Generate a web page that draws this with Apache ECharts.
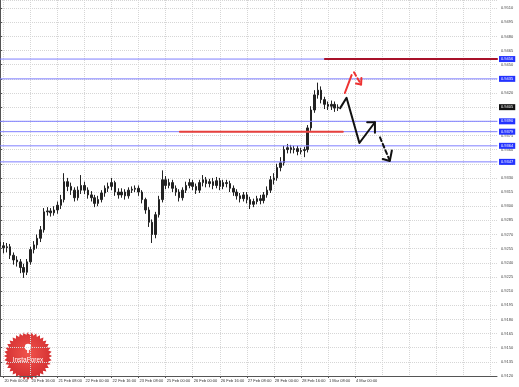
<!DOCTYPE html>
<html>
<head>
<meta charset="utf-8">
<script src="https://cdn.jsdelivr.net/npm/echarts@6/dist/echarts.min.js"></script>
<style>
html,body{margin:0;padding:0;background:#fff;}
#chart{width:519px;height:387px;}
</style>
</head>
<body>
<div id="chart"></div>
<script>
// ---- data ----
const timeLabels = ["20 Feb 00:00","20 Feb 16:00","21 Feb 08:00","22 Feb 00:00","22 Feb 16:00","23 Feb 08:00","25 Feb 00:00","26 Feb 00:00","26 Feb 16:00","27 Feb 08:00","28 Feb 00:00","28 Feb 16:00","1 Mar 08:00","4 Mar 00:00"];
const barCount = 148;            // bar slots on the time axis (history + empty space)
const labelEvery = 8;            // bars between time labels
const labelOffset = 1;           // first labelled bar

// OHLC bars: [open, close, low, high]
const bars = [
[0.9262,0.9258,0.9253,0.9266],[0.9258,0.9256,0.9250,0.9262],[0.9256,0.9257,0.9251,0.9261],[0.9257,0.9248,0.9244,0.9260],
[0.9248,0.9243,0.9238,0.9251],[0.9243,0.9241,0.9236,0.9247],[0.9241,0.9235,0.9229,0.9244],[0.9235,0.9230,0.9224,0.9239],
[0.9230,0.9241,0.9227,0.9244],[0.9241,0.9254,0.9238,0.9257],[0.9254,0.9259,0.9250,0.9263],[0.9259,0.9266,0.9255,0.9270],
[0.9266,0.9275,0.9262,0.9279],[0.9275,0.9294,0.9272,0.9298],[0.9294,0.9295,0.9290,0.9299],[0.9295,0.9293,0.9289,0.9298],
[0.9293,0.9296,0.9290,0.9300],[0.9296,0.9301,0.9292,0.9305],[0.9301,0.9307,0.9297,0.9312],[0.9307,0.9326,0.9304,0.9335],
[0.9326,0.9321,0.9316,0.9330],[0.9321,0.9317,0.9312,0.9325],[0.9317,0.9309,0.9305,0.9320],[0.9309,0.9317,0.9306,0.9321],
[0.9317,0.9322,0.9313,0.9333],[0.9322,0.9317,0.9313,0.9326],[0.9317,0.9312,0.9308,0.9320],[0.9312,0.9309,0.9305,0.9316],
[0.9309,0.9303,0.9299,0.9312],[0.9303,0.9307,0.9300,0.9311],[0.9307,0.9314,0.9304,0.9317],[0.9314,0.9319,0.9310,0.9322],
[0.9319,0.9321,0.9315,0.9325],[0.9321,0.9325,0.9317,0.9330],[0.9325,0.9315,0.9311,0.9327],[0.9315,0.9312,0.9308,0.9319],
[0.9312,0.9315,0.9309,0.9319],[0.9315,0.9311,0.9307,0.9318],[0.9311,0.9317,0.9308,0.9320],[0.9317,0.9318,0.9314,0.9321],
[0.9318,0.9319,0.9315,0.9322],[0.9319,0.9315,0.9311,0.9322],[0.9315,0.9307,0.9303,0.9317],[0.9307,0.9296,0.9292,0.9309],
[0.9296,0.9283,0.9278,0.9299],[0.9283,0.9270,0.9261,0.9286],[0.9270,0.9291,0.9266,0.9294],[0.9291,0.9307,0.9288,0.9311],
[0.9307,0.9328,0.9304,0.9338],[0.9328,0.9322,0.9318,0.9332],[0.9322,0.9325,0.9319,0.9329],[0.9325,0.9319,0.9315,0.9328],
[0.9319,0.9315,0.9311,0.9322],[0.9315,0.9309,0.9305,0.9318],[0.9309,0.9317,0.9306,0.9320],[0.9317,0.9322,0.9314,0.9326],
[0.9322,0.9325,0.9319,0.9329],[0.9325,0.9321,0.9317,0.9328],[0.9321,0.9317,0.9313,0.9324],[0.9317,0.9325,0.9314,0.9328],
[0.9325,0.9328,0.9321,0.9333],[0.9328,0.9324,0.9320,0.9331],[0.9324,0.9326,0.9320,0.9329],[0.9326,0.9322,0.9318,0.9330],
[0.9322,0.9327,0.9319,0.9331],[0.9327,0.9321,0.9317,0.9330],[0.9321,0.9325,0.9318,0.9328],[0.9325,0.9324,0.9320,0.9328],
[0.9324,0.9319,0.9315,0.9327],[0.9319,0.9315,0.9311,0.9322],[0.9315,0.9311,0.9307,0.9318],[0.9311,0.9308,0.9304,0.9314],
[0.9308,0.9312,0.9305,0.9315],[0.9312,0.9307,0.9303,0.9315],[0.9307,0.9302,0.9297,0.9310],[0.9302,0.9305,0.9299,0.9308],
[0.9305,0.9308,0.9302,0.9311],[0.9308,0.9306,0.9302,0.9312],[0.9306,0.9312,0.9303,0.9315],[0.9312,0.9317,0.9309,0.9321],
[0.9317,0.9328,0.9314,0.9332],[0.9328,0.9330,0.9323,0.9335],[0.9330,0.9341,0.9327,0.9345],[0.9341,0.9346,0.9337,0.9352],
[0.9346,0.9360,0.9343,0.9364],[0.9360,0.9362,0.9356,0.9366],[0.9362,0.9360,0.9356,0.9365],[0.9360,0.9361,0.9356,0.9364],
[0.9361,0.9358,0.9354,0.9364],[0.9358,0.9359,0.9355,0.9362],[0.9359,0.9360,0.9352,0.9363],[0.9360,0.9383,0.9357,0.9386],
[0.9383,0.9402,0.9380,0.9406],[0.9402,0.9418,0.9399,0.9423],[0.9418,0.9423,0.9414,0.9431],[0.9423,0.9413,0.9409,0.9427],
[0.9413,0.9408,0.9403,0.9416],[0.9408,0.9406,0.9402,0.9411],[0.9406,0.9408,0.9402,0.9412],[0.9408,0.9404,0.9400,0.9411],
[0.9404,0.9405,0.9401,0.9408]
];

// price axis
const priceMin = 0.9120;
const priceMax = 0.95186;
const priceStep = 0.0015;

// horizontal levels (blue), current price, red zones
const blueLevels = [0.9456, 0.9435, 0.9390, 0.9379, 0.9364, 0.9347];
const currentPrice = 0.9405;
const redLevelLow = {from: 53.2, to: 101.4, value: 0.9379};
const redLevelHigh = {from: 96.1, to: 147, value: 0.9456};

// forecast drawings: [bar position, price]
const blackPath = [[100.6,0.9404],[102.5,0.9415],[106.3,0.9367],[110.9,0.9389]];
const blackHead1 = [[108.6,0.9389],[110.9,0.9389],[110.9,0.9378]];
const blackDash = [[112.4,0.9373],[115.3,0.9348]];
const blackHead2 = [[113.2,0.9350],[115.3,0.9348],[115.9,0.9359]];
const redSolid = [[102.0,0.9420],[104.0,0.9439]];
const redDash = [[104.7,0.9442],[106.8,0.9429]];
const redHead = [[105.3,0.9430],[106.8,0.9429],[106.9,0.9436]];

// ---- chart ----
const categories = Array.from({length: barCount}, (_, i) => String(i));
const isGrid = i => (i - labelOffset) % labelEvery === 0 && i >= labelOffset;
const isLabelled = i => isGrid(i) && (i - labelOffset) / labelEvery < timeLabels.length;

const chart = echarts.init(document.getElementById('chart'), null, {renderer: 'canvas'});

const gridColor = '#d6d6d6';
const axisColor = '#555';
const font = 'Liberation Sans, Arial, sans-serif';

function lineSeries(name, data, color, dashed, width, z) {
  return {
    name, type: 'line', xAxisIndex: 1, yAxisIndex: 0, data,
    symbol: 'none', silent: true, z: z || 5,
    lineStyle: {color, width: width || 2, type: dashed ? [4, 3] : 'solid', cap: 'round', join: 'round'}
  };
}

const levelLabel = (bg) => ({
  show: true, position: 'end', distance: 2,
  formatter: p => Number(p.value).toFixed(4),
  backgroundColor: bg, color: '#fff', fontSize: 4, fontFamily: font,
  padding: [1, 2, 1, 2]
});

// level labels on the price axis (lines themselves drawn as series)
const labelMarks = blueLevels.map(v => ({yAxis: v, label: levelLabel('#2433ff')}));
labelMarks.push({yAxis: currentPrice, label: levelLabel('#111')});

const levelSeries = blueLevels.map((v, k) =>
  lineSeries('level' + k, [[0, v], [barCount - 1, v]], '#7f7fff', false, 1, 4));

// logo star
const star = [];
const cx = 28, cy = 356, rOut = 24, rIn = 21, teeth = 36;
for (let k = 0; k < teeth * 2; k++) {
  const a = Math.PI * k / teeth - Math.PI / 2;
  const r = k % 2 ? rIn : rOut;
  star.push([cx + r * Math.cos(a), cy + r * Math.sin(a)]);
}

chart.setOption({
  animation: false,
  backgroundColor: '#fff',
  grid: {left: 0, top: 0, right: 22, bottom: 11, containLabel: false, outerBoundsMode: 'none'},
  xAxis: [{
    type: 'category', data: categories, boundaryGap: false,
    axisLine: {show: true, lineStyle: {color: axisColor, width: 1}},
    axisTick: {show: true, interval: i => isLabelled(i), length: 2, lineStyle: {color: axisColor}},
    axisLabel: {
      interval: i => isLabelled(i),
      formatter: (v, i) => timeLabels[(i - labelOffset) / labelEvery] || '',
      fontSize: 4, color: '#333', fontFamily: font, align: 'left', margin: 3, padding: [0, 0, 0, 1]
    },
    splitLine: {show: true, interval: i => isGrid(i), lineStyle: {color: gridColor, type: 'dotted', width: 1}}
  }, {
    type: 'value', min: 0, max: barCount - 1, show: false
  }],
  yAxis: [{
    type: 'value', position: 'right', min: priceMin, max: priceMax, interval: priceStep,
    axisLine: {show: true, lineStyle: {color: axisColor, width: 1}},
    axisTick: {show: true, length: 2, lineStyle: {color: axisColor}},
    axisLabel: {fontSize: 4, color: '#444', fontFamily: font, margin: 4, showMaxLabel: false,
      formatter: v => v.toFixed(4)},
    splitLine: {show: true, lineStyle: {color: gridColor, type: 'dotted', width: 1}}
  }],
  graphic: [{
    type: 'group', z: -10, silent: true,
    children: [
      {type: 'polygon', shape: {points: star}, style: {
        fill: {type: 'radial', x: 0.5, y: 0.45, r: 0.6, colorStops: [{offset: 0, color: '#f0544c'}, {offset: 1, color: '#d02a2e'}]}
      }},
      {type: 'circle', shape: {cx: cx, cy: cy - 9, r: 3.2}, style: {fill: '#fff'}},
      {type: 'rect', shape: {x: cx - 0.8, y: cy - 7, width: 1.6, height: 4}, style: {fill: '#fff'}},
      {type: 'text', x: cx, y: cy + 1, style: {text: 'InstaForex', fill: '#fff', fontSize: 6.5, fontFamily: font, align: 'center', verticalAlign: 'top'}}
    ]
  }],
  series: [
    {
      type: 'candlestick', xAxisIndex: 0, yAxisIndex: 0, data: bars, barWidth: 2, silent: true, z: 3,
      itemStyle: {color: '#222', color0: '#222', borderColor: '#222', borderColor0: '#222', borderWidth: 1}
    },
    ...levelSeries,
    lineSeries('redLow', [[redLevelLow.from, redLevelLow.value], [redLevelLow.to, redLevelLow.value]], '#e8413c', false, 2, 4.5),
    lineSeries('redHigh', [[redLevelHigh.from, redLevelHigh.value], [redLevelHigh.to, redLevelHigh.value]], '#a8122a', false, 2, 4.5),
    Object.assign(lineSeries('path', blackPath, '#111', false, 2), {
      markLine: {silent: true, symbol: ['none', 'none'], animation: false, precision: 4,
        lineStyle: {color: 'rgba(0,0,0,0)', width: 1, type: 'solid'}, data: labelMarks}
    }),
    lineSeries('head1', blackHead1, '#111', false, 2),
    lineSeries('dash', blackDash, '#111', true, 2),
    lineSeries('head2', blackHead2, '#111', false, 2),
    lineSeries('redSolid', redSolid, '#ee3333', false, 2),
    lineSeries('redDash', redDash, '#ee3333', true, 2),
    lineSeries('redHead', redHead, '#ee3333', false, 2)
  ]
});
</script>
</body>
</html>
